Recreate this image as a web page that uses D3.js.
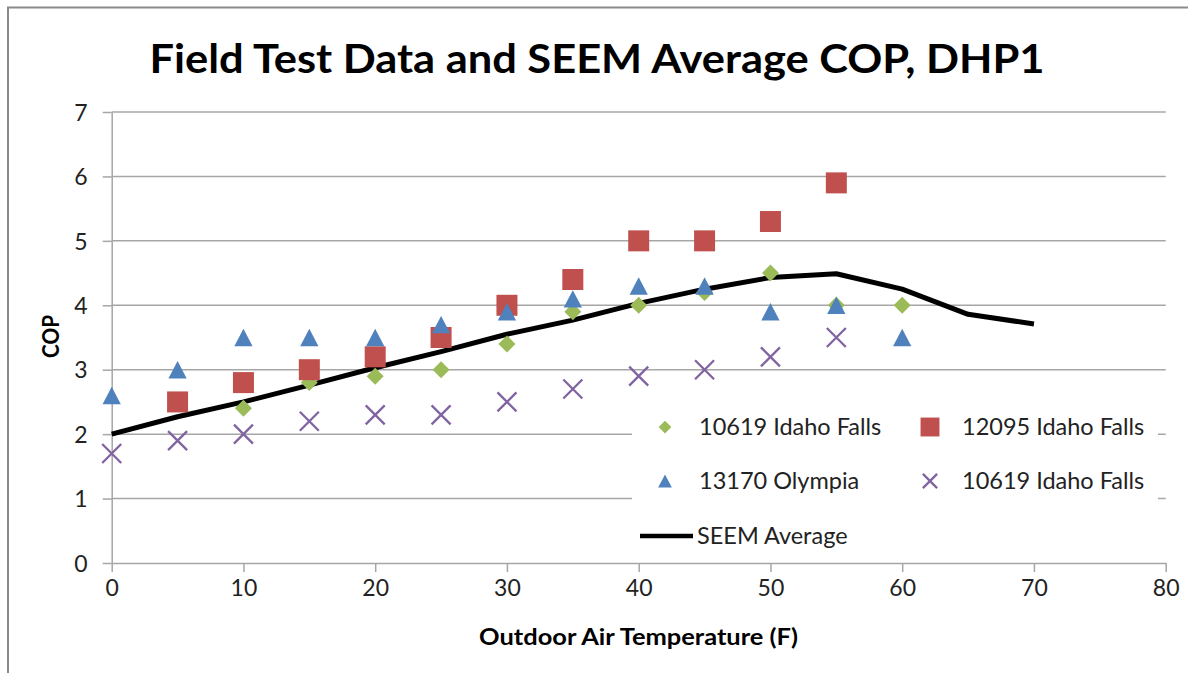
<!DOCTYPE html>
<html>
<head>
<meta charset="utf-8">
<script src="https://cdn.jsdelivr.net/npm/d3@7"></script>
<style>
  body { margin: 0; background: #fff; }
  svg { display: block; font-family: Lato, "Open Sans", sans-serif; }
</style>
</head>
<body>
<svg width="1188" height="673"></svg>
<script>
// data
var temps = [0, 5, 10, 15, 20, 25, 30, 35, 40, 45, 50, 55, 60, 65, 70];
var seemAverage = [2.0, 2.27, 2.5, 2.76, 3.03, 3.28, 3.55, 3.77, 4.03, 4.25, 4.43, 4.49, 4.25, 3.86, 3.71];

var idaho10619Temps = [10, 15, 20, 25, 30, 35, 40, 45, 50, 55, 60];
var idaho10619 = [2.4, 2.8, 2.9, 3.0, 3.4, 3.9, 4.0, 4.2, 4.5, 4.0, 4.0];

var idaho12095Temps = [5, 10, 15, 20, 25, 30, 35, 40, 45, 50, 55];
var idaho12095 = [2.5, 2.8, 3.0, 3.2, 3.5, 4.0, 4.4, 5.0, 5.0, 5.3, 5.9];

var olympiaTemps = [0, 5, 10, 15, 20, 25, 30, 35, 40, 45, 50, 55, 60];
var olympia13170 = [2.6, 3.0, 3.5, 3.5, 3.5, 3.7, 3.9, 4.1, 4.3, 4.3, 3.9, 4.0, 3.5];

var idaho10619bTemps = [0, 5, 10, 15, 20, 25, 30, 35, 40, 45, 50, 55];
var idaho10619b = [1.7, 1.9, 2.0, 2.2, 2.3, 2.3, 2.5, 2.7, 2.9, 3.0, 3.2, 3.5];

var xTicks = [0, 10, 20, 30, 40, 50, 60, 70, 80];
var yTicks = [0, 1, 2, 3, 4, 5, 6, 7];

var titleText = "Field Test Data and SEEM Average COP, DHP1";
var xTitle = "Outdoor Air Temperature (F)";
var yTitle = "COP";

var plotLeft = 111.7, plotRight = 1165.7, plotTop = 112, plotBottom = 563;

var svg = d3.select("svg");

// chart frame (left + top edges visible)
svg.append("path")
    .attr("d", "M8,673 V7.5 H1188")
    .attr("fill", "none")
    .attr("stroke", "#8a8a8a")
    .attr("stroke-width", 2);

var x = d3.scaleLinear().domain([0, 80]).range([plotLeft, plotRight]);
var y = d3.scaleLinear().domain([0, 7]).range([plotBottom, plotTop]);

// gridlines
svg.append("g")
    .selectAll("line")
    .data(yTicks.slice(1))
    .enter().append("line")
    .attr("x1", plotLeft).attr("x2", plotRight)
    .attr("y1", function(d) { return y(d); })
    .attr("y2", function(d) { return y(d); })
    .attr("stroke", "#a6a6a6")
    .attr("stroke-width", 1.5);

// axes
var xAxis = d3.axisBottom(x).tickValues(xTicks).tickFormat(d3.format("d"))
    .tickSize(9).tickSizeOuter(0).tickPadding(8);
var yAxis = d3.axisLeft(y).tickValues(yTicks).tickFormat(d3.format("d"))
    .tickSize(9).tickSizeOuter(0).tickPadding(15);

var gx = svg.append("g")
    .attr("transform", "translate(0," + plotBottom + ")")
    .call(xAxis);
var gy = svg.append("g")
    .attr("transform", "translate(" + plotLeft + ",0)")
    .call(yAxis);

[gx, gy].forEach(function(g) {
    g.select(".domain").attr("stroke", "#a6a6a6").attr("stroke-width", 1.5);
    g.selectAll(".tick line").attr("stroke", "#a6a6a6").attr("stroke-width", 1.5);
    g.selectAll(".tick text")
        .attr("fill", "#222")
        .style("font-size", "23px")
        .style("font-family", "Lato, sans-serif");
});
gy.selectAll(".tick text").attr("dy", "0.36em");

// titles
svg.append("text")
    .attr("x", 597).attr("y", 73)
    .attr("text-anchor", "middle")
    .attr("textLength", 895)
    .attr("lengthAdjust", "spacingAndGlyphs")
    .style("font-size", "40px")
    .style("font-weight", "bold")
    .text(titleText);

svg.append("text")
    .attr("x", 638.5).attr("y", 645)
    .attr("text-anchor", "middle")
    .attr("textLength", 319)
    .attr("lengthAdjust", "spacingAndGlyphs")
    .style("font-size", "23px")
    .style("font-weight", "bold")
    .text(xTitle);

svg.append("text")
    .attr("transform", "translate(59,336.5) rotate(-90)")
    .attr("text-anchor", "middle")
    .attr("textLength", 43)
    .attr("lengthAdjust", "spacingAndGlyphs")
    .style("font-size", "23px")
    .style("font-weight", "bold")
    .text(yTitle);

// marker shapes
function diamondPath(s) {
    return "M0," + (-s) + "L" + s + ",0L0," + s + "L" + (-s) + ",0Z";
}
function squarePath(s) {
    return "M" + (-s) + "," + (-s) + "h" + (2 * s) + "v" + (2 * s) + "h" + (-2 * s) + "Z";
}
function trianglePath(s) {
    return "M0," + (-s) + "L" + (s * 1.05) + "," + s + "L" + (-s * 1.05) + "," + s + "Z";
}
function crossPath(s) {
    return "M" + (-s) + "," + (-s) + "L" + s + "," + s + "M" + s + "," + (-s) + "L" + (-s) + "," + s;
}

var series = [
    { name: "10619 Idaho Falls", xs: idaho10619Temps, ys: idaho10619, color: "#9bbb59", shape: diamondPath, size: 8.5, stroke: false },
    { name: "12095 Idaho Falls", xs: idaho12095Temps, ys: idaho12095, color: "#c0504d", shape: squarePath, size: 10.5, stroke: false },
    { name: "13170 Olympia", xs: olympiaTemps, ys: olympia13170, color: "#4f81bd", shape: trianglePath, size: 8.7, stroke: false },
    { name: "10619 Idaho Falls", xs: idaho10619bTemps, ys: idaho10619b, color: "#8064a2", shape: crossPath, size: 9.5, stroke: true }
];

// SEEM line
var line = d3.line()
    .x(function(d, i) { return x(temps[i]); })
    .y(function(d) { return y(d); });

svg.append("path")
    .datum(seemAverage)
    .attr("d", line)
    .attr("fill", "none")
    .attr("stroke", "#000")
    .attr("stroke-width", 5)
    .attr("stroke-linejoin", "round");

function drawMarker(sel, s, scale) {
    sel.attr("d", s.shape(s.size * scale));
    if (s.stroke) {
        sel.attr("fill", "none").attr("stroke", s.color).attr("stroke-width", 2.3);
    } else {
        sel.attr("fill", s.color);
    }
}

series.forEach(function(s) {
    svg.append("g")
        .selectAll("path")
        .data(s.ys)
        .enter().append("path")
        .attr("transform", function(d, i) {
            return "translate(" + x(s.xs[i]) + "," + y(d) + ")";
        })
        .call(drawMarker, s, 1);
});

// legend
svg.append("rect")
    .attr("x", 632).attr("y", 399)
    .attr("width", 526).attr("height", 155)
    .attr("fill", "#fff");

var legendPos = [
    { mx: 665, tx: 699, cy: 427 },
    { mx: 930, tx: 962, cy: 427 },
    { mx: 665, tx: 699, cy: 481 },
    { mx: 930, tx: 962, cy: 481 }
];

series.forEach(function(s, i) {
    var p = legendPos[i];
    svg.append("path")
        .attr("transform", "translate(" + p.mx + "," + p.cy + ")")
        .call(drawMarker, s, s.shape === squarePath ? 0.9 : 0.75);
    svg.append("text")
        .attr("x", p.tx).attr("y", p.cy)
        .attr("dy", "0.36em")
        .style("font-size", "23.5px")
        .attr("fill", "#222")
        .text(s.name);
});

svg.append("line")
    .attr("x1", 640).attr("x2", 693)
    .attr("y1", 536).attr("y2", 536)
    .attr("stroke", "#000")
    .attr("stroke-width", 4.5);
svg.append("text")
    .attr("x", 697).attr("y", 536)
    .attr("dy", "0.36em")
    .style("font-size", "23.5px")
    .attr("fill", "#222")
    .text("SEEM Average");
</script>
</body>
</html>
